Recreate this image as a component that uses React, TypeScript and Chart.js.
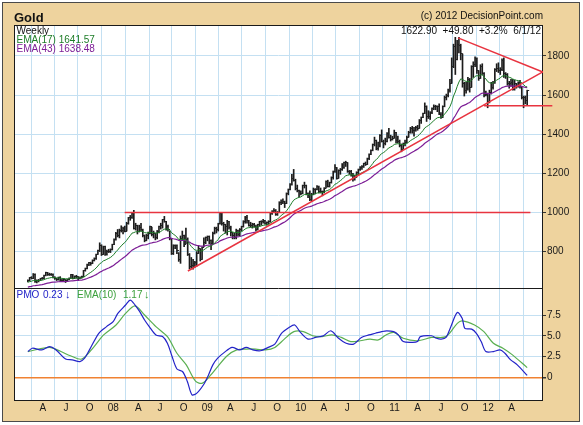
import { useEffect, useRef } from "react";
import { Chart, registerables } from "chart.js";

Chart.register(...registerables);

// ---- x axis: week index 0 = week ending 2 Feb 2007, 278 = 1 Jun 2012 ----
const quarterWeeks = [8.29, 21.29, 34.43, 47.57, 61.57, 73.57, 86.71, 99.86, 112.71, 125.71, 138.86, 152, 164.86, 177.86, 191, 204.14, 217, 230, 243.14, 256.29, 269.29];
const quarterLabels = ["A", "J", "O", "08", "A", "J", "O", "09", "A", "J", "O", "10", "A", "J", "O", "11", "A", "J", "O", "12", "A"];
const priceTicks = [800, 1000, 1200, 1400, 1600, 1800];
const pmoTicks = [0, 2.5, 5, 7.5];

// ---- weekly gold bars ----
const weeklyClose = [
  // 2007
  652, 666, 664, 685, 645, 652, 653, 662, 662, 677, 692, 685, 681, 685, 667, 662, 655, 666, 654, 654, 656, 650, 657, 665, 681, 665, 672, 672, 661, 669, 672, 702, 712, 733, 743, 740, 755, 765, 785, 806, 833, 785, 825, 784, 800, 800, 811, 834,
  // 2008
  862, 895, 882, 910, 908, 918, 905, 945, 975, 973, 995, 918, 933, 902, 925, 913, 883, 855, 882, 893, 927, 885, 895, 870, 904, 928, 935, 962, 955, 928, 912, 865, 790, 830, 833, 805, 762, 865, 882, 835, 860, 785, 725, 730, 738, 745, 790, 815, 760, 822, 845, 870,
  // 2009
  878, 855, 840, 895, 920, 912, 942, 995, 942, 940, 928, 955, 925, 898, 880, 870, 910, 885, 915, 928, 955, 975, 960, 935, 932, 940, 930, 912, 937, 952, 955, 958, 945, 950, 955, 995, 1005, 1010, 990, 1000, 1050, 1050, 1055, 1045, 1095, 1118, 1145, 1175, 1165, 1120, 1110, 1105,
  // 2010
  1097, 1138, 1140, 1097, 1085, 1065, 1093, 1118, 1118, 1135, 1105, 1105, 1105, 1125, 1160, 1135, 1152, 1180, 1210, 1232, 1175, 1215, 1220, 1228, 1255, 1255, 1210, 1210, 1190, 1190, 1180, 1205, 1218, 1230, 1235, 1250, 1245, 1275, 1297, 1318, 1345, 1370, 1325, 1357, 1395, 1365, 1350, 1362, 1405, 1385, 1375, 1380, 1410,
  // 2011
  1370, 1362, 1342, 1320, 1350, 1360, 1385, 1410, 1430, 1420, 1418, 1435, 1430, 1470, 1485, 1505, 1540, 1490, 1490, 1510, 1530, 1540, 1540, 1540, 1500, 1485, 1540, 1590, 1600, 1625, 1660, 1745, 1850, 1780, 1860, 1855, 1810, 1660, 1625, 1635, 1680, 1640, 1745, 1755, 1785, 1725, 1685, 1745, 1710, 1598, 1605, 1565,
  // 2012
  1615, 1640, 1665, 1730, 1735, 1725, 1730, 1775, 1710, 1705, 1660, 1660, 1665, 1630, 1660, 1645, 1665, 1645, 1585, 1590, 1570, 1622.9,
];
const weeklyHigh = [
  656, 668, 672, 688, 686, 656, 658, 664, 668, 680, 695, 694, 690, 688, 686, 672, 664, 670, 672, 658, 662, 656, 660, 666, 684, 684, 676, 679, 672, 671, 675, 704, 716, 736, 745, 746, 758, 768, 787, 808, 845, 835, 828, 828, 808, 812, 814, 838,
  865, 898, 913, 915, 932, 925, 930, 950, 975, 985, 1000, 1011, 945, 935, 935, 945, 915, 885, 888, 900, 930, 925, 905, 895, 908, 930, 945, 965, 980, 955, 935, 905, 865, 835, 835, 835, 795, 880, 905, 885, 920, 870, 790, 770, 760, 750, 800, 830, 815, 825, 870, 875,
  880, 880, 860, 900, 925, 925, 945, 1000, 995, 950, 940, 960, 955, 930, 895, 895, 915, 910, 918, 930, 958, 980, 985, 960, 950, 945, 945, 935, 940, 955, 958, 965, 960, 952, 958, 998, 1010, 1020, 1015, 1005, 1055, 1065, 1070, 1058, 1100, 1120, 1148, 1195, 1220, 1170, 1140, 1115,
  1110, 1140, 1155, 1140, 1100, 1110, 1098, 1125, 1122, 1138, 1135, 1125, 1110, 1127, 1162, 1165, 1155, 1182, 1212, 1245, 1230, 1218, 1225, 1250, 1258, 1262, 1255, 1215, 1215, 1200, 1190, 1208, 1222, 1235, 1240, 1252, 1258, 1278, 1300, 1320, 1350, 1385, 1370, 1360, 1398, 1422, 1370, 1380, 1408, 1430, 1395, 1390, 1421,
  1410, 1390, 1370, 1350, 1355, 1370, 1390, 1415, 1435, 1440, 1435, 1440, 1445, 1475, 1488, 1508, 1560, 1545, 1520, 1515, 1535, 1550, 1548, 1545, 1555, 1510, 1545, 1595, 1605, 1630, 1680, 1790, 1860, 1895, 1880, 1895, 1860, 1810, 1665, 1665, 1690, 1685, 1750, 1770, 1795, 1790, 1725, 1755, 1760, 1715, 1620, 1610,
  1625, 1665, 1670, 1735, 1760, 1765, 1740, 1785, 1790, 1715, 1710, 1670, 1680, 1680, 1675, 1660, 1668, 1675, 1645, 1595, 1595, 1625,
];
const weeklyLow = [
  645, 650, 660, 662, 643, 640, 645, 652, 658, 662, 676, 678, 678, 678, 665, 658, 652, 654, 650, 648, 652, 642, 648, 655, 664, 660, 662, 664, 652, 660, 664, 670, 700, 712, 728, 730, 738, 752, 760, 785, 800, 780, 785, 780, 782, 795, 795, 808,
  835, 858, 875, 870, 900, 890, 900, 905, 940, 960, 970, 915, 910, 890, 900, 905, 875, 850, 855, 865, 890, 880, 870, 860, 865, 895, 915, 920, 950, 910, 905, 860, 785, 785, 815, 790, 750, 740, 860, 825, 840, 780, 712, 715, 710, 720, 725, 790, 752, 760, 825, 840,
  855, 840, 810, 840, 890, 895, 905, 940, 935, 905, 895, 885, 915, 880, 865, 865, 865, 880, 880, 905, 925, 945, 945, 930, 925, 920, 925, 905, 910, 930, 935, 945, 940, 935, 940, 950, 990, 1000, 985, 985, 1000, 1040, 1045, 1025, 1045, 1090, 1115, 1140, 1160, 1115, 1105, 1080,
  1090, 1095, 1125, 1090, 1075, 1060, 1060, 1090, 1095, 1115, 1100, 1100, 1085, 1100, 1125, 1130, 1130, 1150, 1170, 1205, 1170, 1175, 1195, 1215, 1225, 1235, 1205, 1195, 1185, 1160, 1165, 1180, 1190, 1215, 1220, 1230, 1240, 1245, 1270, 1295, 1315, 1340, 1320, 1318, 1335, 1360, 1330, 1345, 1360, 1380, 1365, 1370, 1380,
  1355, 1355, 1335, 1310, 1325, 1340, 1355, 1385, 1405, 1405, 1390, 1415, 1420, 1430, 1455, 1485, 1505, 1465, 1480, 1475, 1505, 1525, 1525, 1515, 1500, 1480, 1485, 1540, 1575, 1590, 1615, 1660, 1740, 1705, 1780, 1815, 1780, 1640, 1595, 1610, 1625, 1615, 1640, 1690, 1745, 1710, 1675, 1685, 1705, 1590, 1595, 1535,
  1560, 1605, 1630, 1660, 1720, 1715, 1705, 1725, 1690, 1685, 1650, 1635, 1645, 1625, 1625, 1635, 1640, 1635, 1580, 1535, 1555, 1550,
];

// EMA starting levels (carried in from before the visible window)
const ema17Start = 643;
const ema43Start = 617;

// ---- PMO panel ----
const pmoWeeks = [0, 2.5, 7.8, 12, 15.7, 21, 24.7, 29, 31.6, 34.3, 39.5, 43.8, 47.5, 50.1, 54.4, 57, 59.7, 62.3, 65, 67.6, 71.3, 75, 77.7, 80.3, 83, 86.1, 88.8, 91.4, 94.1, 97.8, 100.4, 103, 105.7, 109.4, 113.7, 117.9, 121.6, 125.3, 129.5, 133.8, 137.5, 141.2, 145.4, 148.6, 151.8, 156, 160.2, 164.5, 168.7, 173, 177.2, 181.4, 185.7, 189.9, 193.5, 197, 199.8, 203.7, 206.3, 209, 214.2, 216.9, 218.5, 224.8, 227.5, 230.1, 232.8, 235.5, 239.1, 241.8, 243.3, 247.1, 249.7, 252.4, 255, 259.2, 262.9, 265.6, 268.8, 272.5, 278];
const pmoValues = [3.1, 3.5, 3.3, 3.7, 3.3, 2.2, 2.1, 1.9, 2.3, 3.3, 5.3, 6.1, 6.7, 7.7, 8.7, 9.3, 8.7, 7.9, 6.9, 6.1, 5.1, 4.9, 4.1, 2.5, 1.0, 0.7, -0.5, -2.1, -1.9, -0.9, 0.2, 1.5, 2.3, 3.0, 3.6, 3.3, 3.6, 3.3, 3.2, 3.6, 4.0, 5.3, 6.0, 6.3, 5.4, 4.6, 4.8, 5.0, 5.6, 4.7, 4.1, 4.0, 4.8, 5.1, 5.3, 5.5, 5.6, 5.5, 5.1, 4.3, 4.2, 4.3, 4.9, 5.0, 4.7, 4.6, 4.8, 6.1, 7.8, 7.1, 5.9, 5.8, 5.3, 4.3, 3.1, 3.1, 3.3, 2.9, 2.1, 1.5, 0.23];
const signalWeeks = [0, 12, 18.4, 23.7, 30, 36.9, 42.2, 49.1, 54.4, 59.7, 65, 71.3, 77.7, 83, 88.2, 93.5, 97.2, 101.5, 105.7, 111, 116.3, 121.6, 126.9, 132.2, 137.5, 142.8, 148.1, 153.4, 158.6, 163.9, 169.2, 174.5, 179.8, 185.1, 190.4, 195.1, 199.4, 203.7, 209, 216.9, 224.8, 232.8, 239.1, 241.8, 248.7, 253.9, 259.2, 264.5, 269.8, 278];
const signalValues = [3.1, 3.6, 3.1, 2.6, 2.2, 3.7, 5.1, 6.3, 7.7, 8.6, 7.5, 6.1, 4.9, 2.9, 1.5, -0.5, -0.7, 0.2, 1.3, 2.6, 3.3, 3.4, 3.4, 3.3, 3.6, 4.6, 5.5, 5.5, 5.0, 4.9, 5.1, 4.8, 4.3, 4.4, 4.6, 4.5, 5.1, 5.4, 4.7, 4.4, 4.8, 4.9, 6.5, 6.8, 6.3, 5.5, 4.1, 3.5, 2.7, 1.17];

// ---- hand-drawn trend lines [week, price] ----
const trendRising = [[89.1, 701], [286.7, 1718]];
const trendFalling = [[239.5, 1892], [286.7, 1718]];
const level1000 = [[53.9, 1000], [279.8, 1000]];
const levelSupport = [[254, 1545], [292, 1545]];

const FONT = "'Liberation Sans', Arial, Helvetica, sans-serif";
const GRID = "rgb(196, 224, 242)";
const RED = "rgb(232, 52, 64)";

function ema(values: number[], period: number, start: number) {
  const k = 2 / (period + 1);
  let prev = start;
  return values.map((v) => (prev = prev + k * (v - prev)));
}

const pts = (arr: number[][]) => arr.map((p) => ({ x: p[0], y: p[1] }));

const framePlugin = {
  id: "frame",
  beforeDraw(chart: any) {
    const { ctx, chartArea: a } = chart;
    ctx.save();
    ctx.fillStyle = "#ffffff";
    ctx.fillRect(a.left, a.top, a.right - a.left, a.bottom - a.top);
    ctx.restore();
  },
  beforeDatasetsDraw(chart: any) {
    const { ctx, chartArea: a, scales } = chart;
    ctx.save();
    ctx.strokeStyle = "#1a1a1a";
    ctx.lineWidth = 1;
    ctx.strokeRect(a.left + 0.5, a.top + 0.5, a.right - a.left - 1, a.bottom - a.top - 1);
    const yDiv = Math.round(scales.y.bottom) + 0.5;
    ctx.beginPath();
    ctx.moveTo(a.left, yDiv);
    ctx.lineTo(a.right, yDiv);
    ctx.stroke();
    ctx.restore();
  },
};

function Txt(props: { left?: number; right?: number; top: number; color?: string; size?: number; bold?: boolean; children: any }) {
  const s: any = {
    position: "absolute",
    top: props.top,
    color: props.color || "#111",
    fontFamily: FONT,
    fontSize: (props.size || 10) + "px",
    lineHeight: (props.size || 10) + "px",
    fontWeight: props.bold ? "bold" : "normal",
    whiteSpace: "pre",
    pointerEvents: "none",
  };
  if (props.left !== undefined) s.left = props.left;
  if (props.right !== undefined) s.right = props.right;
  return <div style={s}>{props.children}</div>;
}

export default function App() {
  const canvasRef = useRef<HTMLCanvasElement | null>(null);

  useEffect(() => {
    const canvas = canvasRef.current;
    if (!canvas) return;
    Chart.defaults.font.family = FONT;

    const tick = document.createElement("canvas");
    tick.width = 6;
    tick.height = 1;
    const tctx = tick.getContext("2d");
    if (tctx) {
      tctx.fillStyle = "#222";
      tctx.fillRect(3, 0, 2, 1);
    }

    const weeks = weeklyClose.map((_, i) => i);
    const ema17 = ema(weeklyClose, 17, ema17Start);
    const ema43 = ema(weeklyClose, 43, ema43Start);

    const redLine = (arr: number[][]) => ({
      type: "line" as const,
      data: pts(arr),
      borderColor: RED,
      borderWidth: 1.5,
      pointRadius: 0,
      clip: false as any,
      yAxisID: "y",
      order: 0,
    });

    const chart = new Chart(canvas, {
      type: "line",
      data: {
        datasets: [
          redLine(trendRising),
          redLine(trendFalling),
          redLine(level1000),
          redLine(levelSupport),
          {
            type: "line",
            data: weeks.map((i) => ({ x: i, y: ema17[i] })),
            borderColor: "rgb(30, 125, 40)",
            borderWidth: 1,
            pointRadius: 0,
            yAxisID: "y",
            order: 1,
          },
          {
            type: "line",
            data: weeks.map((i) => ({ x: i, y: ema43[i] })),
            borderColor: "rgb(125, 30, 150)",
            borderWidth: 1.2,
            pointRadius: 0,
            yAxisID: "y",
            order: 1,
          },
          {
            type: "line",
            data: weeks.map((i) => ({ x: i, y: weeklyClose[i] })),
            showLine: false,
            pointStyle: tick as any,
            pointRadius: 1,
            yAxisID: "y",
            order: 2,
          },
          {
            type: "bar",
            data: weeks.map((i) => ({ x: i, y: [weeklyLow[i], weeklyHigh[i]] })) as any,
            backgroundColor: "#1c1c1c",
            barThickness: 1,
            yAxisID: "y",
            order: 3,
          },
          {
            type: "line",
            data: signalWeeks.map((w, i) => ({ x: w, y: signalValues[i] })),
            borderColor: "rgb(90, 175, 80)",
            borderWidth: 1.2,
            pointRadius: 0,
            tension: 0.3,
            yAxisID: "y2",
            order: 1,
          },
          {
            type: "line",
            data: pmoWeeks.map((w, i) => ({ x: w, y: pmoValues[i] })),
            borderColor: "rgb(35, 35, 200)",
            borderWidth: 1.2,
            pointRadius: 0,
            tension: 0.3,
            yAxisID: "y2",
            order: 0,
          },
        ] as any,
      },
      options: {
        animation: false,
        responsive: false,
        devicePixelRatio: 1,
        layout: { padding: { left: 14, top: 25, right: 0, bottom: 0 } },
        plugins: { legend: { display: false }, tooltip: { enabled: false } },
        scales: {
          x: {
            type: "linear",
            position: "bottom",
            min: -0.7,
            max: 279.8,
            bounds: "data",
            afterBuildTicks: (s: any) => {
              s.ticks = quarterWeeks.map((v) => ({ value: v }));
            },
            afterFit: (s: any) => {
              s.height = 24;
            },
            ticks: {
              autoSkip: false,
              maxRotation: 0,
              padding: 1,
              color: "#1a1a1a",
              font: { size: 10 },
              callback: (_v: any, i: number) => quarterLabels[i],
            },
            grid: { color: GRID, drawTicks: false },
            border: { display: false },
          },
          y: {
            type: "linear",
            position: "right",
            stack: "panels",
            stackWeight: 263,
            min: 614,
            max: 1958,
            bounds: "data",
            afterBuildTicks: (s: any) => {
              s.ticks = priceTicks.map((v) => ({ value: v }));
            },
            afterFit: (s: any) => {
              s.width = 40;
            },
            ticks: {
              autoSkip: false,
              padding: 1,
              color: "#1a1a1a",
              font: { size: 10 },
              callback: (v: any) => String(v),
            },
            grid: { color: GRID, tickColor: "#333", tickLength: 3 },
            border: { display: false },
          },
          y2: {
            type: "linear",
            position: "right",
            stack: "panels",
            stackWeight: 113,
            min: -2.85,
            max: 10.75,
            bounds: "data",
            afterBuildTicks: (s: any) => {
              s.ticks = pmoTicks.map((v) => ({ value: v }));
            },
            afterFit: (s: any) => {
              s.width = 40;
            },
            ticks: {
              autoSkip: false,
              padding: 1,
              color: "#1a1a1a",
              font: { size: 10 },
              callback: (v: any) => (v === 0 ? "0" : Number(v).toFixed(1)),
            },
            grid: {
              color: (c: any) => (c.tick && c.tick.value === 0 ? "rgb(240, 130, 50)" : GRID),
              lineWidth: (c: any) => (c.tick && c.tick.value === 0 ? 1.5 : 1),
              tickColor: "#333",
              tickLength: 3,
            },
            border: { display: false },
          },
        } as any,
      },
      plugins: [framePlugin],
    });

    return () => chart.destroy();
  }, []);

  return (
    <div style={{ position: "fixed", left: 0, top: 0, width: 583, height: 425, background: "#ffffff", overflow: "hidden" }}>
      <div
        style={{
          position: "absolute",
          left: 2,
          top: 2,
          width: 578,
          height: 420,
          boxSizing: "border-box",
          background: "rgb(238, 211, 158)",
          border: "1.5px solid #4a4a4a",
        }}
      />
      <canvas ref={canvasRef} width={583} height={425} style={{ position: "absolute", left: 0, top: 0, width: 583, height: 425 }} />
      <Txt left={14} top={11} size={13} bold>Gold</Txt>
      <Txt right={40} top={10.5}>(c) 2012 DecisionPoint.com</Txt>
      <Txt left={16.5} top={26}>Weekly</Txt>
      <Txt left={16.5} top={35} color="rgb(30, 125, 40)">EMA(17) 1641.57</Txt>
      <Txt left={16.5} top={44} color="rgb(125, 30, 150)">EMA(43) 1638.48</Txt>
      <Txt right={42} top={26}>1622.90  +49.80  +3.2%  6/1/12</Txt>
      <Txt left={16.5} top={290} color="rgb(35, 35, 200)">PMO</Txt>
      <Txt left={43} top={290} color="rgb(35, 35, 200)">0.23</Txt>
      <Txt left={65} top={289} size={11} color="rgb(35, 35, 200)" bold>↓</Txt>
      <Txt left={77} top={290} color="rgb(60, 160, 60)">EMA(10)</Txt>
      <Txt left={123} top={290} color="rgb(60, 160, 60)">1.17</Txt>
      <Txt left={144} top={289} size={11} color="rgb(60, 160, 60)" bold>↓</Txt>
    </div>
  );
}
